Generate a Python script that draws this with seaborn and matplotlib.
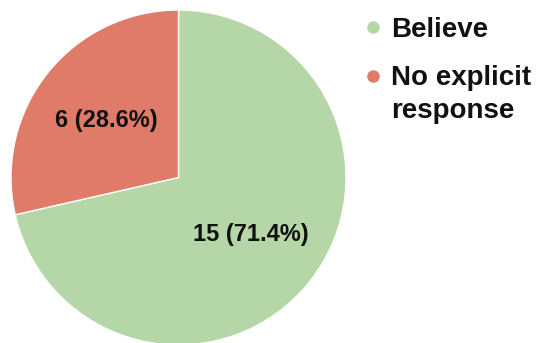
import matplotlib
matplotlib.use("Agg")
import matplotlib.pyplot as plt
from matplotlib.lines import Line2D
from matplotlib.legend_handler import HandlerLine2D
from matplotlib.transforms import Affine2D
import seaborn as sns

labels = ["Believe", "No explicit\nresponse"]
counts = [15, 6]
colors = ["#b5d7a8", "#e07b6a"]

LINESPACING = 1.36

sns.set_theme(style="white")
plt.rcParams["font.family"] = ["Liberation Sans", "DejaVu Sans"]
palette = sns.color_palette(colors)


# put the legend dot next to the first line of a multi-line label
class FirstLineHandler(HandlerLine2D):
    def __init__(self, lines=1, **kw):
        super().__init__(**kw)
        self.lines = lines

    def create_artists(self, legend, orig_handle, xdescent, ydescent,
                       width, height, fontsize, trans):
        shift = (self.lines - 1) * fontsize * LINESPACING / 2 * legend.figure.dpi / 72
        t = trans + Affine2D().translate(0, shift)
        return super().create_artists(legend, orig_handle, xdescent, ydescent,
                                      width, height, fontsize, t)


fig = plt.figure(figsize=(5.44, 3.43), dpi=100)
ax = fig.add_axes([11 / 544, -2 / 343, 335 / 544, 335 / 343])

total = sum(counts)
wedges, texts, autotexts = ax.pie(
    counts, colors=palette, startangle=90, counterclock=False,
    autopct=lambda p: f"{round(p * total / 100)} ({p:.1f}%)",
    pctdistance=0.55, radius=1.0,
    textprops=dict(fontsize=17, fontweight="bold", color="#111111"),
)
ax.set_xlim(-1, 1)
ax.set_ylim(-1, 1)
ax.set_aspect("equal")
ax.axis("off")

handles = [Line2D([], [], marker="o", linestyle="", markersize=8,
                  markerfacecolor=c, markeredgecolor=c) for c in palette]
handler_map = {h: FirstLineHandler(lines=lab.count("\n") + 1)
               for h, lab in zip(handles, labels)}
leg = fig.legend(handles, labels, loc="upper left",
                 bbox_to_anchor=(365 / 544, 1 - 17 / 343),
                 frameon=False, prop=dict(size=20, weight="bold"),
                 handlelength=0.6, handletextpad=0.35, labelspacing=0.78,
                 borderaxespad=0, borderpad=0, labelcolor="#111111",
                 handler_map=handler_map)
for t in leg.get_texts():
    t.set_linespacing(LINESPACING)

fig.savefig("out.png", dpi=100)
